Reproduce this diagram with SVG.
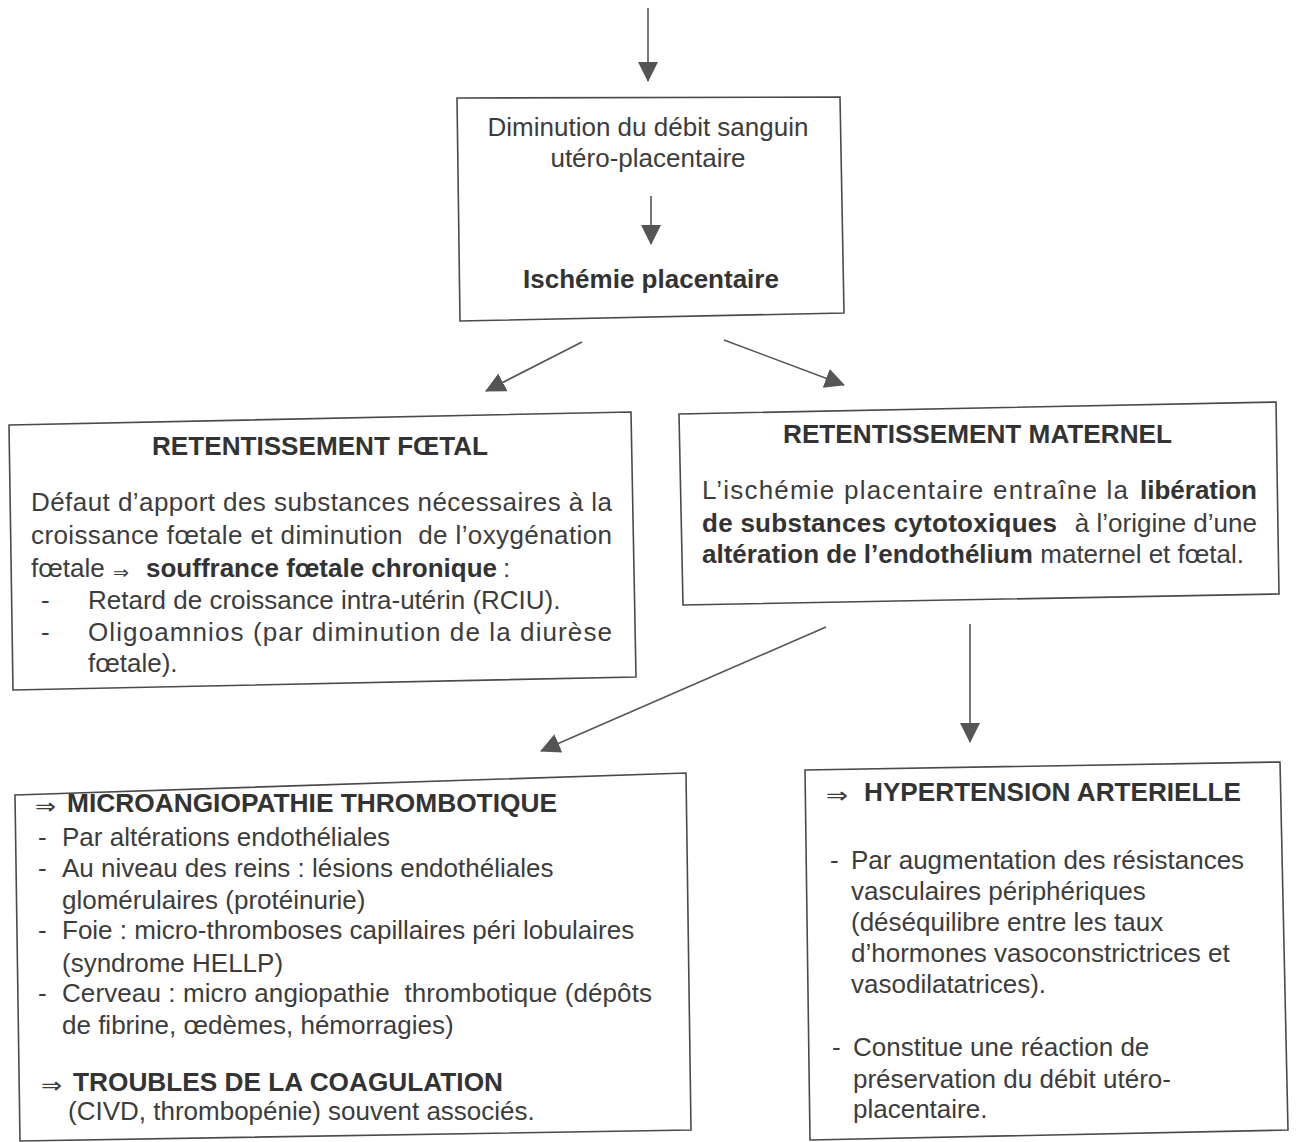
<svg xmlns="http://www.w3.org/2000/svg" width="1296" height="1142" viewBox="0 0 1296 1142">
<style>
.box{fill:none;stroke:#4a4a4a;stroke-width:1.6}
.t{font-family:"Liberation Sans",Arial,sans-serif;font-size:26px;fill:#3c3c3c}
.b{font-weight:bold;fill:#333}
.ar{font-family:"DejaVu Sans",sans-serif;font-size:22px;fill:#3c3c3c}
.c{text-anchor:middle}
.pre{white-space:pre}
.con{stroke:#555;stroke-width:1.6;fill:none}
</style>
<defs>
<marker id="ah" viewBox="0 0 20 20" markerWidth="20" markerHeight="20" refX="19" refY="10" orient="auto" markerUnits="userSpaceOnUse">
<path d="M0,0 L20,10 L0,20 z" fill="#555"/>
</marker>
</defs>
<rect width="1296" height="1142" fill="#fff"/>
<g id="connectors">
<line class="con" x1="648" y1="8" x2="648" y2="81" marker-end="url(#ah)"/>
<line class="con" x1="651" y1="196" x2="651" y2="244" marker-end="url(#ah)"/>
<line class="con" x1="582" y1="342" x2="486" y2="391" marker-end="url(#ah)"/>
<line class="con" x1="724" y1="340" x2="844" y2="385" marker-end="url(#ah)"/>
<line class="con" x1="826" y1="627" x2="541" y2="751" marker-end="url(#ah)"/>
<line class="con" x1="970" y1="624" x2="970" y2="742" marker-end="url(#ah)"/>
</g>
<g id="node-debit">
<polygon class="box" points="457,98 840,97 844,313 460,321"/>
<text class="t c" x="648" y="136">Diminution du débit sanguin</text>
<text class="t c" x="648" y="167">utéro-placentaire</text>
<text class="t b c" x="651" y="288">Ischémie placentaire</text>
</g>
<g id="node-foetal">
<polygon class="box" points="9,425 631,412 636,677 13,690"/>
<text class="t b" x="152" y="455" textLength="336" lengthAdjust="spacingAndGlyphs">RETENTISSEMENT FŒTAL</text>
<text class="t" x="31" y="511" textLength="581" lengthAdjust="spacing">Défaut d’apport des substances nécessaires à la</text>
<text class="t pre" x="31" y="544" textLength="581" lengthAdjust="spacing">croissance fœtale et diminution  de l’oxygénation</text>
<text class="t" x="31" y="577">fœtale</text>
<text class="ar" x="113" y="579" style="font-size:18px" textLength="16" lengthAdjust="spacingAndGlyphs">⇒</text>
<text class="t b" x="146" y="577">souffrance fœtale chronique</text>
<text class="t" x="503" y="577">:</text>
<text class="t" x="41" y="609">-</text>
<text class="t" x="88" y="609">Retard de croissance intra-utérin (RCIU).</text>
<text class="t" x="41" y="641">-</text>
<text class="t" x="88" y="641" textLength="524" lengthAdjust="spacing">Oligoamnios (par diminution de la diurèse</text>
<text class="t" x="88" y="672">fœtale).</text>
</g>
<g id="node-maternel">
<polygon class="box" points="679,414 1276,402 1279,594 683,605"/>
<text class="t b" x="783" y="443" textLength="389" lengthAdjust="spacingAndGlyphs">RETENTISSEMENT MATERNEL</text>
<text class="t" x="702" y="499" textLength="426" lengthAdjust="spacing">L’ischémie placentaire entraîne la</text>
<text class="t b" x="1257" y="499" text-anchor="end">libération</text>
<text class="t b" x="702" y="532" textLength="355" lengthAdjust="spacing">de substances cytotoxiques</text>
<text class="t" x="1257" y="532" text-anchor="end">à l’origine d’une</text>
<text class="t b" x="702" y="563">altération de l’endothélium</text>
<text class="t" x="1244" y="563" text-anchor="end">maternel et fœtal.</text>
</g>
<g id="node-micro">
<polygon class="box" points="15,795 686,773 691,1130 20,1141"/>
<text class="ar" x="35" y="814" textLength="21" lengthAdjust="spacingAndGlyphs">⇒</text>
<text class="t b" x="67" y="812" textLength="490" lengthAdjust="spacingAndGlyphs">MICROANGIOPATHIE THROMBOTIQUE</text>
<text class="t" x="38" y="846">-</text>
<text class="t" x="62" y="846">Par altérations endothéliales</text>
<text class="t" x="38" y="877">-</text>
<text class="t" x="62" y="877">Au niveau des reins : lésions endothéliales</text>
<text class="t" x="62" y="909">glomérulaires (protéinurie)</text>
<text class="t" x="38" y="939">-</text>
<text class="t" x="62" y="939">Foie : micro-thromboses capillaires péri lobulaires</text>
<text class="t" x="62" y="972">(syndrome HELLP)</text>
<text class="t" x="38" y="1002">-</text>
<text class="t pre" x="62" y="1002" textLength="590" lengthAdjust="spacing">Cerveau : micro angiopathie  thrombotique (dépôts</text>
<text class="t" x="62" y="1034">de fibrine, œdèmes, hémorragies)</text>
<text class="ar" x="41" y="1093" textLength="21" lengthAdjust="spacingAndGlyphs">⇒</text>
<text class="t b" x="73" y="1091" textLength="430" lengthAdjust="spacingAndGlyphs">TROUBLES DE LA COAGULATION</text>
<text class="t" x="68" y="1120">(CIVD, thrombopénie) souvent associés.</text>
</g>
<g id="node-hta">
<polygon class="box" points="805,770 1280,762 1288,1130 810,1140"/>
<text class="ar" x="826" y="803" textLength="22" lengthAdjust="spacingAndGlyphs">⇒</text>
<text class="t b" x="864" y="801" textLength="377" lengthAdjust="spacingAndGlyphs">HYPERTENSION ARTERIELLE</text>
<text class="t" x="830" y="869">-</text>
<text class="t" x="851" y="869">Par augmentation des résistances</text>
<text class="t" x="851" y="900">vasculaires périphériques</text>
<text class="t" x="851" y="931">(déséquilibre entre les taux</text>
<text class="t" x="851" y="962">d’hormones vasoconstrictrices et</text>
<text class="t" x="851" y="993">vasodilatatrices).</text>
<text class="t" x="832" y="1056">-</text>
<text class="t" x="853" y="1056">Constitue une réaction de</text>
<text class="t" x="853" y="1088">préservation du débit utéro-</text>
<text class="t" x="853" y="1118">placentaire.</text>
</g>
</svg>
